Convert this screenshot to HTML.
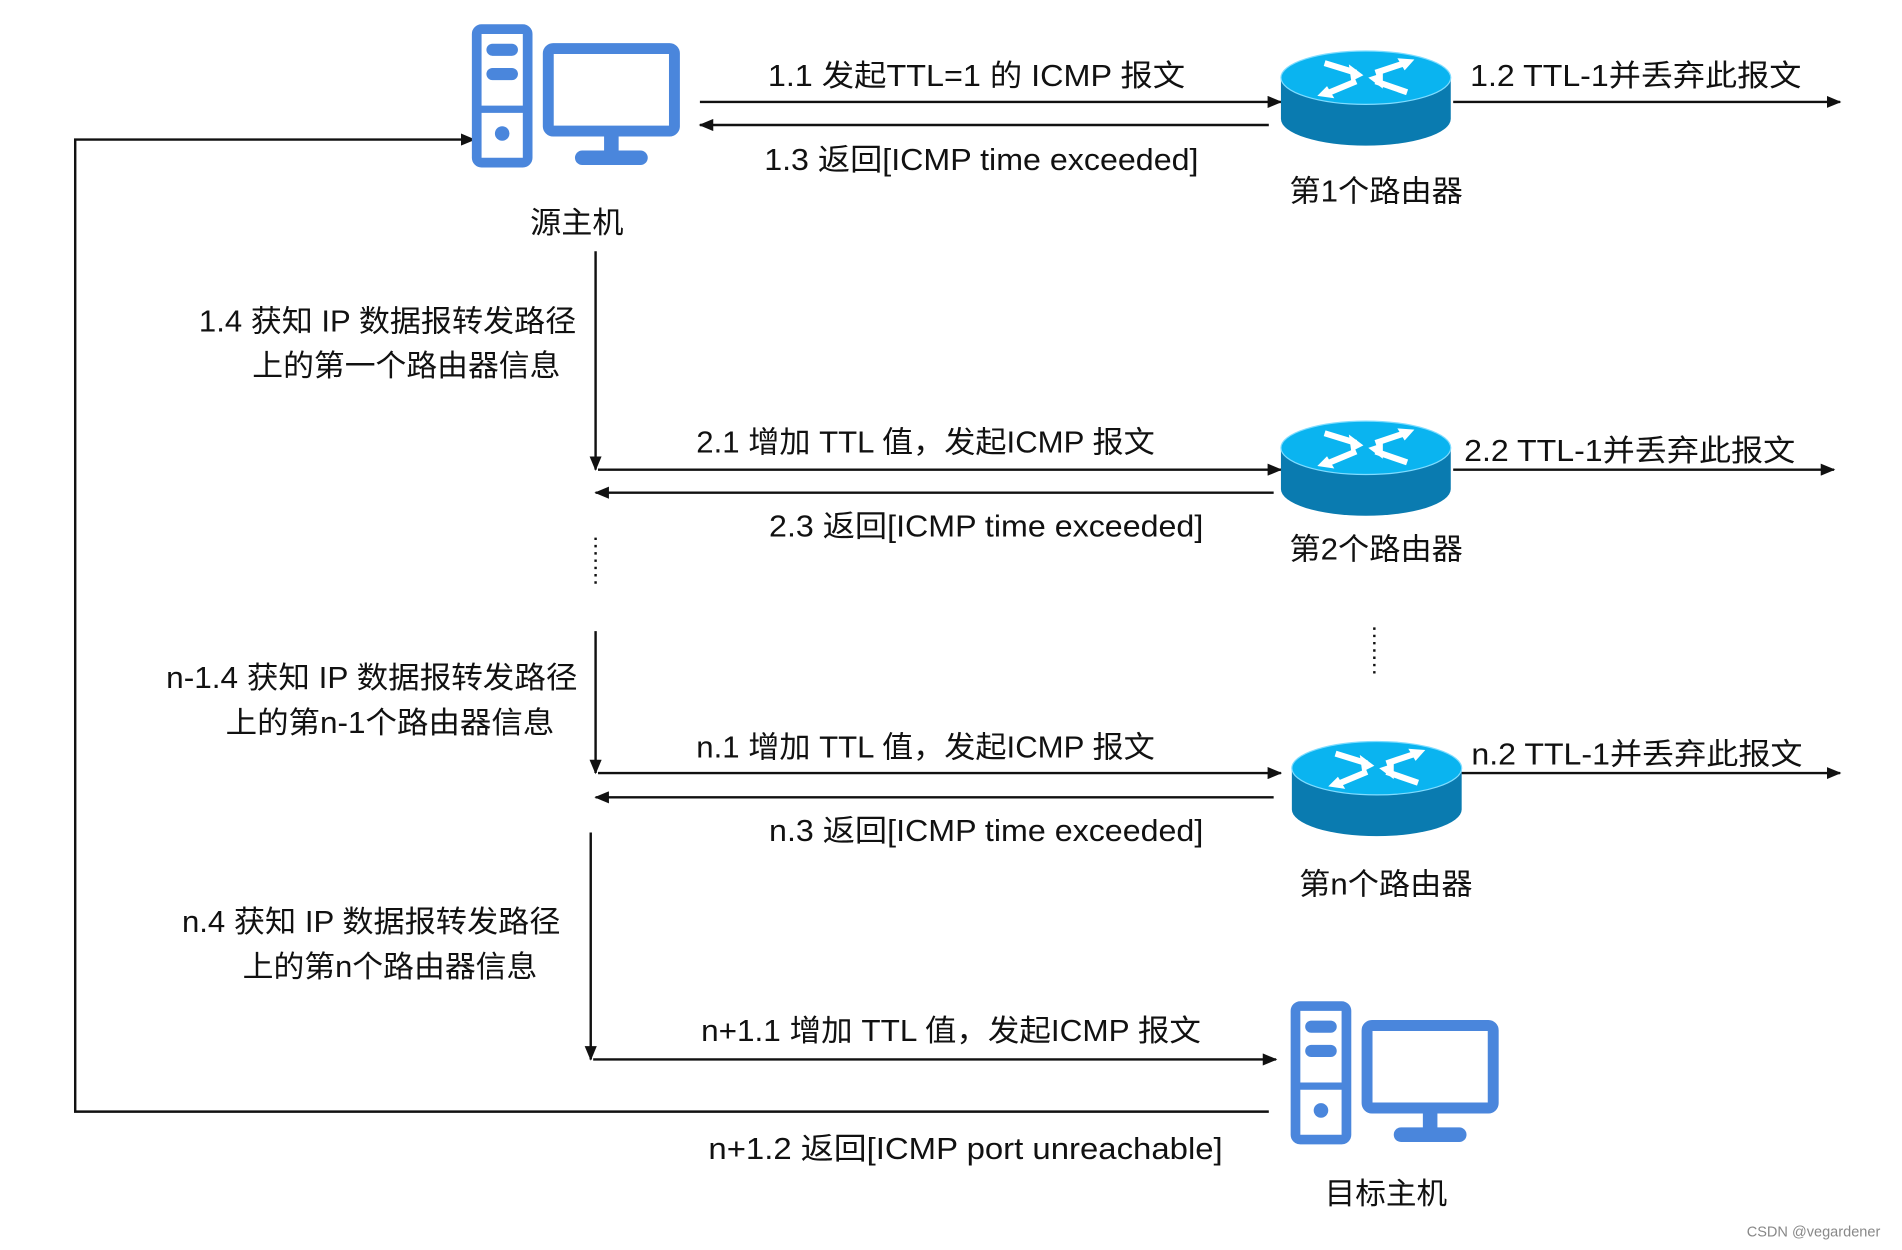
<!DOCTYPE html>
<html><head><meta charset="utf-8"><style>
html,body{margin:0;padding:0;background:#fff;}
svg{display:block;}
text{font-family:"Liberation Sans","Noto Sans CJK SC",sans-serif;font-size:25px;fill:#111;}
</style></head><body>
<svg width="1902" height="1250" viewBox="0 0 1568 1030" preserveAspectRatio="none" xmlns="http://www.w3.org/2000/svg">
<defs>
<marker id="a" markerWidth="12" markerHeight="10" refX="11" refY="5" orient="auto" markerUnits="userSpaceOnUse">
<path d="M0,0 L12,5 L0,10 z" fill="#111"/></marker>
<g id="pc">
<rect x="4" y="4" width="42" height="110" rx="4" fill="none" stroke="#4a86dc" stroke-width="8"/>
<line x1="4" y1="70" x2="46" y2="70" stroke="#4a86dc" stroke-width="6"/>
<rect x="12" y="16" width="26" height="10" rx="5" fill="#4a86dc"/>
<rect x="12" y="36" width="26" height="10" rx="5" fill="#4a86dc"/>
<circle cx="25" cy="90" r="6" fill="#4a86dc"/>
<rect x="63" y="20" width="104" height="68" rx="4" fill="none" stroke="#4a86dc" stroke-width="9"/>
<rect x="109" y="88" width="12" height="18" fill="#4a86dc"/>
<rect x="85" y="104" width="60" height="12" rx="6" fill="#4a86dc"/>
</g>
<g id="rt">
<path d="M0,22 L0,56 A70,22 0 0 0 140,56 L140,22 z" fill="#0a7bb0"/>
<ellipse cx="70" cy="22" rx="70" ry="22" fill="#0ab4f0" stroke="#7fdcff" stroke-width="1"/>
<g stroke="#fff" stroke-width="5" fill="none" stroke-linecap="butt">
<line x1="36" y1="10" x2="62" y2="18"/>
<line x1="78" y1="18" x2="102" y2="10"/>
<line x1="38" y1="35" x2="62" y2="25"/>
<line x1="78" y1="25" x2="104" y2="34"/>
</g>
<g fill="#fff">
<path d="M68,20 L56,11 L58,25 z"/>
<path d="M110,7 L96,6 L102,16 z"/>
<path d="M30,37 L44,39 L38,29 z"/>
<path d="M72,22 L84,31 L84,18 z"/>
</g>
</g>
</defs>
<g stroke="#111" stroke-width="2" fill="none">
<line x1="577" y1="84" x2="1056" y2="84" marker-end="url(#a)"/>
<line x1="1046" y1="103" x2="577" y2="103" marker-end="url(#a)"/>
<line x1="1198" y1="84" x2="1517" y2="84" marker-end="url(#a)"/>
<polyline points="1046,916 62,916 62,115 391,115" marker-end="url(#a)"/>
<line x1="491" y1="207" x2="491" y2="387" marker-end="url(#a)"/>
<line x1="491" y1="443" x2="491" y2="483" stroke-dasharray="2,4"/>
<line x1="1133" y1="517" x2="1133" y2="555" stroke-dasharray="2,4"/>
<line x1="491" y1="520" x2="491" y2="637" marker-end="url(#a)"/>
<line x1="487" y1="686" x2="487" y2="873" marker-end="url(#a)"/>
<line x1="493" y1="387" x2="1056" y2="387" marker-end="url(#a)"/>
<line x1="1050" y1="406" x2="491" y2="406" marker-end="url(#a)"/>
<line x1="1198" y1="387" x2="1512" y2="387" marker-end="url(#a)"/>
<line x1="493" y1="637" x2="1056" y2="637" marker-end="url(#a)"/>
<line x1="1050" y1="657" x2="491" y2="657" marker-end="url(#a)"/>
<line x1="1205" y1="637" x2="1517" y2="637" marker-end="url(#a)"/>
<line x1="489" y1="873" x2="1052" y2="873" marker-end="url(#a)"/>
</g>
<use href="#pc" x="389" y="20"/>
<use href="#pc" x="1064" y="825"/>
<use href="#rt" x="1056" y="42"/>
<use href="#rt" x="1056" y="347"/>
<use href="#rt" x="1065" y="611"/>
<g lengthAdjust="spacingAndGlyphs">
<text x="633" y="71" textLength="344" lengthAdjust="spacingAndGlyphs">1.1  发起TTL=1 的 ICMP 报文</text>
<text x="630" y="140" textLength="358" lengthAdjust="spacingAndGlyphs">1.3 返回[ICMP time exceeded]</text>
<text x="1063" y="166" textLength="143" lengthAdjust="spacingAndGlyphs">第1个路由器</text>
<text x="1212" y="71" textLength="273" lengthAdjust="spacingAndGlyphs">1.2  TTL-1并丢弃此报文</text>
<text x="437" y="192" textLength="77" lengthAdjust="spacingAndGlyphs">源主机</text>
<text x="164" y="273" textLength="311" lengthAdjust="spacingAndGlyphs">1.4 获知 IP 数据报转发路径</text>
<text x="208" y="310" textLength="254" lengthAdjust="spacingAndGlyphs">上的第一个路由器信息</text>
<text x="574" y="373" textLength="378" lengthAdjust="spacingAndGlyphs">2.1 增加 TTL 值，发起ICMP 报文</text>
<text x="1207" y="380" textLength="273" lengthAdjust="spacingAndGlyphs">2.2  TTL-1并丢弃此报文</text>
<text x="634" y="442" textLength="358" lengthAdjust="spacingAndGlyphs">2.3 返回[ICMP time exceeded]</text>
<text x="1063" y="461" textLength="143" lengthAdjust="spacingAndGlyphs">第2个路由器</text>
<text x="137" y="567" textLength="339" lengthAdjust="spacingAndGlyphs">n-1.4 获知 IP 数据报转发路径</text>
<text x="186" y="604" textLength="271" lengthAdjust="spacingAndGlyphs">上的第n-1个路由器信息</text>
<text x="574" y="624" textLength="378" lengthAdjust="spacingAndGlyphs">n.1 增加 TTL 值，发起ICMP 报文</text>
<text x="1213" y="630" textLength="273" lengthAdjust="spacingAndGlyphs">n.2  TTL-1并丢弃此报文</text>
<text x="634" y="693" textLength="358" lengthAdjust="spacingAndGlyphs">n.3 返回[ICMP time exceeded]</text>
<text x="1071" y="737" textLength="143" lengthAdjust="spacingAndGlyphs">第n个路由器</text>
<text x="150" y="768" textLength="312" lengthAdjust="spacingAndGlyphs">n.4 获知 IP 数据报转发路径</text>
<text x="200" y="805" textLength="243" lengthAdjust="spacingAndGlyphs">上的第n个路由器信息</text>
<text x="578" y="858" textLength="412" lengthAdjust="spacingAndGlyphs">n+1.1 增加 TTL 值，发起ICMP 报文</text>
<text x="584" y="955" textLength="424" lengthAdjust="spacingAndGlyphs">n+1.2 返回[ICMP port unreachable]</text>
<text x="1092" y="992" textLength="101" lengthAdjust="spacingAndGlyphs">目标主机</text>
</g>
<text x="1440" y="1019" style="font-size:12px;fill:#888">CSDN @vegardener</text>
</svg>
</body></html>
